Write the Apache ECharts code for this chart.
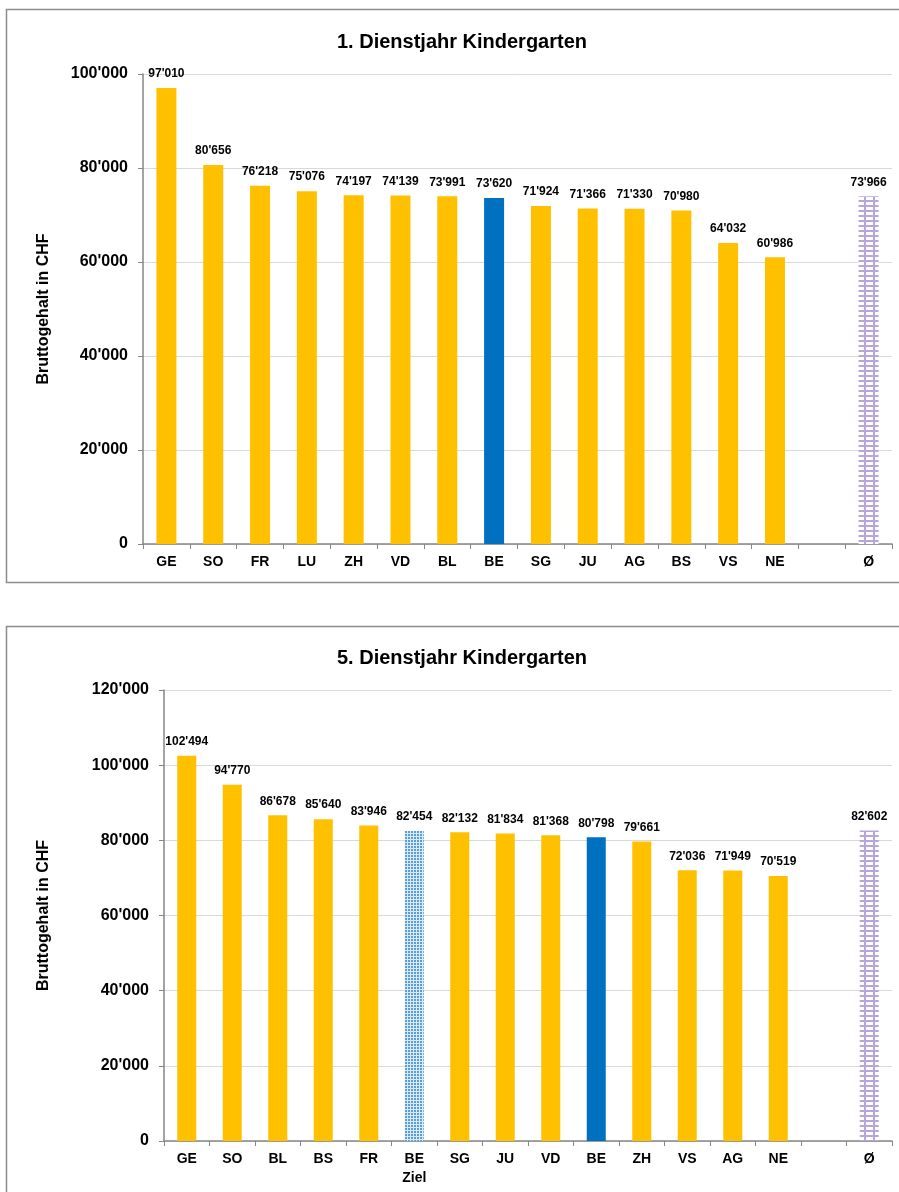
<!DOCTYPE html>
<html>
<head>
<meta charset="utf-8">
<script src="https://cdn.jsdelivr.net/npm/echarts@6/dist/echarts.min.js"></script>
<style>
  html, body { margin: 0; padding: 0; background: #fff; }
  #chart { width: 899px; height: 1192px; }
</style>
</head>
<body>
<div id="chart"></div>
<script>
// Gross salary (CHF), kindergarten teachers, by canton
const title1 = '1. Dienstjahr Kindergarten';
const cats1 = ['GE', 'SO', 'FR', 'LU', 'ZH', 'VD', 'BL', 'BE', 'SG', 'JU', 'AG', 'BS', 'VS', 'NE', '', 'Ø'];
const vals1 = [97010, 80656, 76218, 75076, 74197, 74139, 73991, 73620, 71924, 71366, 71330, 70980, 64032, 60986, null, 73966];

const title2 = '5. Dienstjahr Kindergarten';
const cats2 = ['GE', 'SO', 'BL', 'BS', 'FR', 'BE\nZiel', 'SG', 'JU', 'VD', 'BE', 'ZH', 'VS', 'AG', 'NE', '', 'Ø'];
const vals2 = [102494, 94770, 86678, 85640, 83946, 82454, 82132, 81834, 81368, 80798, 79661, 72036, 71949, 70519, null, 82602];

const yAxisName = 'Bruttogehalt in CHF';
const yMax1 = 100000;
const yMax2 = 120000;
const yStep = 20000;

const FONT = '"Liberation Sans", Arial, sans-serif';

function swiss(v) {
  return String(Math.round(v)).replace(/\B(?=(\d{3})+(?!\d))/g, "'");
}

// lavender grid fill for the average bar
function gridPattern() {
  const c = document.createElement('canvas');
  c.width = 9; c.height = 5;
  const g = c.getContext('2d');
  g.fillStyle = '#ffffff';
  g.fillRect(0, 0, 9, 5);
  g.fillStyle = '#b8a6d8';
  g.fillRect(0, 0, 2, 5);
  g.fillRect(0, 0, 9, 2);
  return c;
}

// fine blue dots for the target bar
function dotPattern() {
  const c = document.createElement('canvas');
  c.width = 3; c.height = 3;
  const g = c.getContext('2d');
  g.fillStyle = '#d9eaf8';
  g.fillRect(0, 0, 3, 3);
  g.fillStyle = '#5b9dd9';
  g.fillRect(0, 0, 2, 2);
  return c;
}

const gridFill = { image: gridPattern(), repeat: 'repeat' };
const dotFill = { image: dotPattern(), repeat: 'repeat' };

function barColor(cat) {
  if (cat === 'Ø') return gridFill;
  if (cat === 'BE\nZiel') return dotFill;
  if (cat === 'BE') return '#0070c0';
  return '#ffc000';
}

function items(cats, vals) {
  return vals.map((v, i) => ({ value: v, itemStyle: { color: barColor(cats[i]) } }));
}

function xAxis(cats, idx) {
  return {
    type: 'category', gridIndex: idx, data: cats,
    axisLine: { lineStyle: { color: '#868686', width: 1.5 } },
    axisTick: { show: true, alignWithLabel: false, length: 5, lineStyle: { color: '#868686' } },
    axisLabel: { color: '#000', fontFamily: FONT, fontWeight: 'bold', fontSize: 14, margin: 9, lineHeight: 19, interval: 0 }
  };
}

function yAxis(max, idx, gap) {
  return {
    type: 'value', gridIndex: idx, min: 0, max: max, interval: yStep,
    name: yAxisName, nameLocation: 'middle', nameGap: gap,
    nameTextStyle: { color: '#000', fontFamily: FONT, fontWeight: 'bold', fontSize: 16 },
    axisLine: { show: true, lineStyle: { color: '#868686', width: 1.5 } },
    axisTick: { show: true, length: 5, lineStyle: { color: '#868686' } },
    axisLabel: { color: '#000', fontFamily: FONT, fontWeight: 'bold', fontSize: 16, margin: 15, formatter: swiss },
    splitLine: { lineStyle: { color: '#d9d9d9', width: 1 } }
  };
}

function series(cats, vals, idx, w) {
  return {
    type: 'bar', xAxisIndex: idx, yAxisIndex: idx, barWidth: w,
    data: items(cats, vals),
    label: {
      show: true, position: 'top', distance: 8,
      color: '#000', fontFamily: FONT, fontWeight: 'bold', fontSize: 12,
      formatter: p => (p.value == null ? '' : swiss(p.value))
    },
    animation: false
  };
}

const chart = echarts.init(document.getElementById('chart'), null, { renderer: 'canvas' });
chart.setOption({
  backgroundColor: '#ffffff',
  animation: false,
  title: [
    { text: title1, left: 457, textAlign: 'center', top: 27,
      textStyle: { fontFamily: FONT, fontWeight: 'bold', fontSize: 20, color: '#000' } },
    { text: title2, left: 457, textAlign: 'center', top: 643,
      textStyle: { fontFamily: FONT, fontWeight: 'bold', fontSize: 20, color: '#000' } }
  ],
  graphic: [
    { type: 'rect', shape: { x: 6.5, y: 9.5, width: 900, height: 573 },
      style: { fill: 'none', stroke: '#8c8c8c', lineWidth: 1.5 }, silent: true },
    { type: 'rect', shape: { x: 6.5, y: 626.5, width: 900, height: 600 },
      style: { fill: 'none', stroke: '#8c8c8c', lineWidth: 1.5 }, silent: true }
  ],
  grid: [
    { left: 143, right: 7, top: 74, height: 470 },
    { left: 164, right: 7, top: 690, height: 451 }
  ],
  xAxis: [xAxis(cats1, 0), xAxis(cats2, 1)],
  yAxis: [yAxis(yMax1, 0, 91), yAxis(yMax2, 1, 112)],
  series: [series(cats1, vals1, 0, 20), series(cats2, vals2, 1, 19)]
});
</script>
</body>
</html>
